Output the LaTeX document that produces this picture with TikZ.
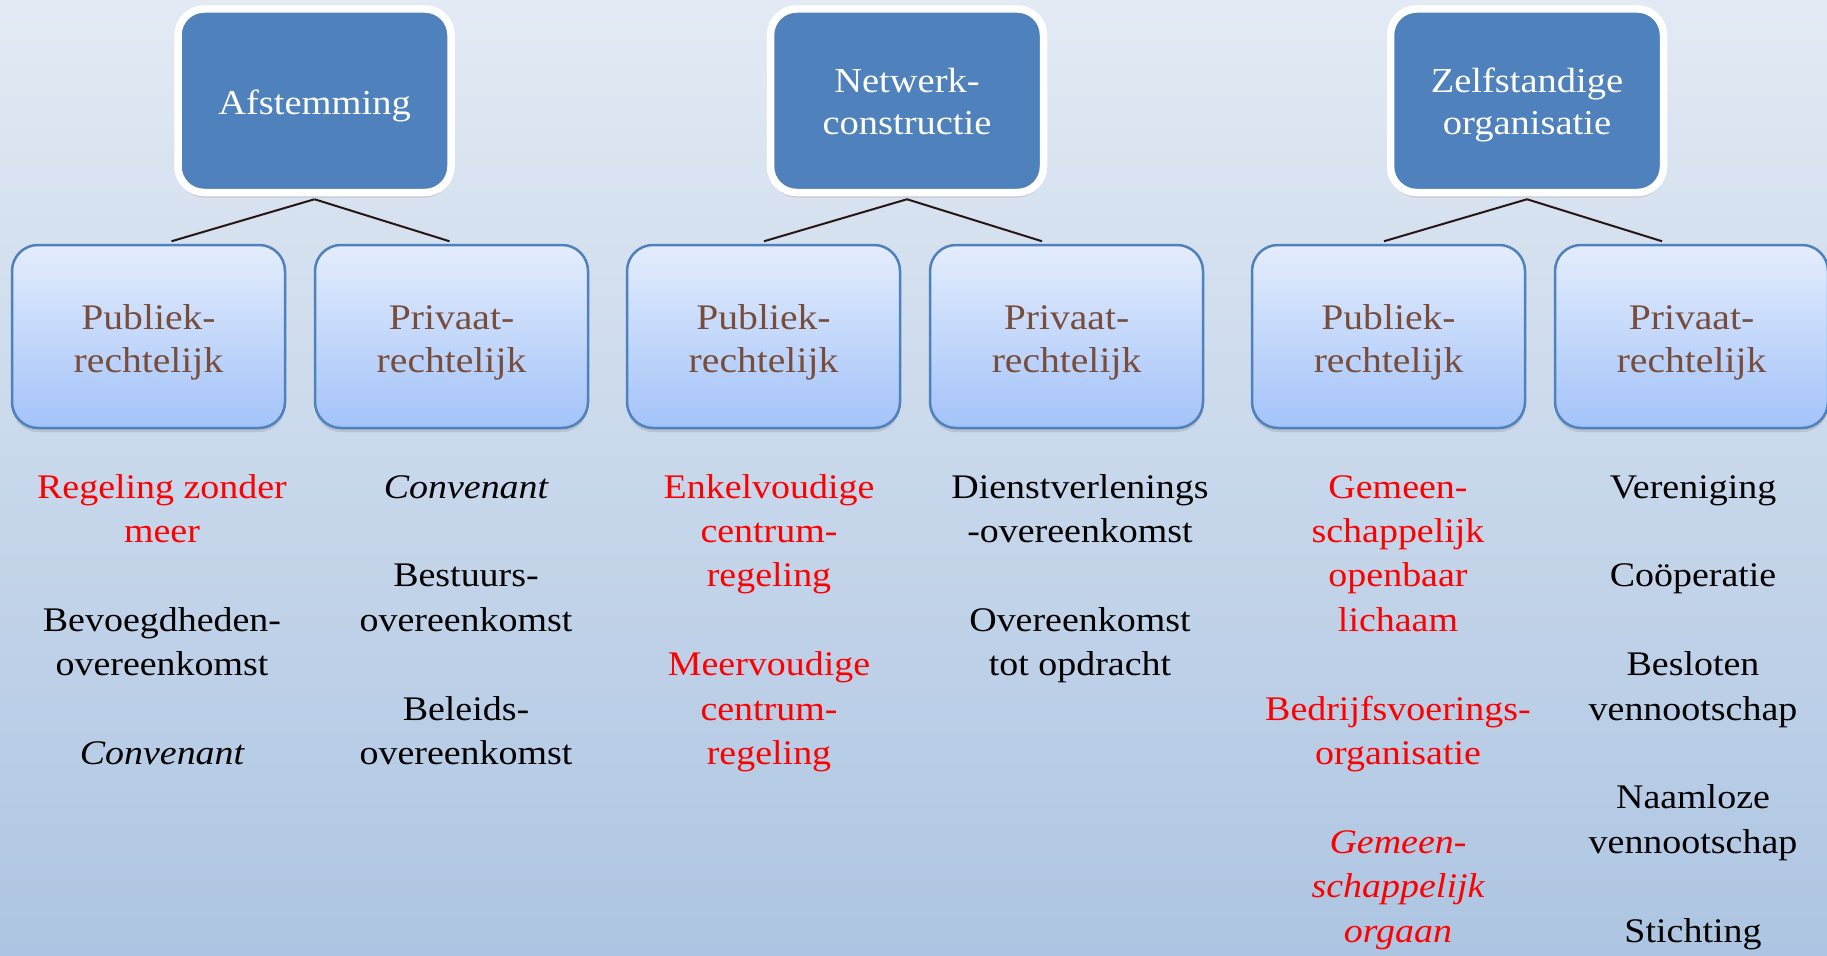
\documentclass[tikz,border=0pt]{standalone}
\usepackage{fontspec}
\setmainfont[FakeStretch=1.1]{Liberation Serif}
\usetikzlibrary{calc, shadows}

\definecolor{bgtop}{RGB}{227,234,244}
\definecolor{bgbottom}{RGB}{173,197,226}
\definecolor{headblue}{RGB}{79,129,189}
\definecolor{subtop}{RGB}{228,237,253}
\definecolor{subbottom}{RGB}{163,195,249}
\definecolor{subtext}{RGB}{121,77,60}
\definecolor{linkcol}{RGB}{40,22,22}

\tikzset{
  headbox/.style={rectangle, rounded corners=26pt, minimum width=273pt, minimum height=183.5pt,
    inner sep=0pt, fill=headblue, draw=white, line width=7.5pt, text=white, align=center,
    font=\fontsize{35}{42}\selectfont, text height=78pt, text depth=9.5pt,
    drop shadow={shadow xshift=0pt, shadow yshift=-5pt, opacity=0.25}},
  subbox/.style={rectangle, rounded corners=26pt, minimum width=273pt, minimum height=183pt,
    inner sep=0pt, top color=subtop, bottom color=subbottom, draw=headblue, line width=2.5pt,
    text=subtext, align=center, font=\fontsize{36}{43}\selectfont, text height=80pt, text depth=9pt,
    drop shadow={shadow xshift=0pt, shadow yshift=-4pt, opacity=0.25}},
  item/.style={anchor=base, align=center, font=\fontsize{34.5}{44.4}\selectfont},
  itemit/.style={item, font=\fontsize{34.5}{44.4}\selectfont\itshape},
  link/.style={draw=linkcol, line width=2pt}
}

\begin{document}
\begin{tikzpicture}[x=1pt, y=-1pt]
    \useasboundingbox (0,0) rectangle (1827,955);
    \shade[top color=bgtop, bottom color=bgbottom] (0,0) rectangle (1827,955);

    % Top level
    \node[headbox, text height=35pt, text depth=6.5pt] (afst) at (314.5,100.75) {Afstemming};
    \node[headbox] (netw) at (907,100.75) {Netwerk-\\constructie};
    \node[headbox] (zelf) at (1527,100.75) {Zelfstandige\\organisatie};

    % Second level
    \foreach \n/\x in {pub1/148.5, pub2/763.5, pub3/1388.5}
        \node[subbox] (\n) at (\x,336.5) {Publiek-\\rechtelijk};
    \foreach \n/\x in {priv1/451.5, priv2/1066.5, priv3/1691.5}
        \node[subbox] (\n) at (\x,336.5) {Privaat-\\rechtelijk};

    % Connectors
    \foreach \h in {afst, netw, zelf}{
        \coordinate (\h-l) at ($(\h.south)+(-143,45)$);
        \coordinate (\h-r) at ($(\h.south)+(135,45)$);
        \draw[link] ($(\h.south)+(0,3)$) -- (\h-l);
        \draw[link] ($(\h.south)+(0,3)$) -- (\h-r);
    }

    % Afstemming (base = last line)
    \node[item, text=red] (regeling) at (162,542.4) {Regeling zonder\\meer};
    \node[item] (bevoegd) at (162,675.6) {Bevoegdheden-\\overeenkomst};
    \node[itemit] (conv1) at (162,764.4) {Convenant};
    \node[itemit] (conv2) at (466,498) {Convenant};
    \node[item] (bestuur) at (466,631.2) {Bestuurs-\\overeenkomst};
    \node[item] (beleid) at (466,764.4) {Beleids-\\overeenkomst};

    % Netwerkconstructie
    \node[item, text=red] (enkel) at (769,586.8) {Enkelvoudige\\centrum-\\regeling};
    \node[item, text=red] (meer) at (769,764.4) {Meervoudige\\centrum-\\regeling};
    \node[item] (dienst) at (1080,542.4) {Dienstverlenings\\-overeenkomst};
    \node[item] (opdracht) at (1080,675.6) {Overeenkomst\\tot opdracht};

    % Zelfstandige organisatie
    \node[item, text=red] (gol) at (1398,631.2) {Gemeen-\\schappelijk\\openbaar\\lichaam};
    \node[item, text=red] (bvo) at (1398,764.4) {Bedrijfsvoerings-\\organisatie};
    \node[itemit, text=red] (go) at (1398,942) {Gemeen-\\schappelijk\\orgaan};
    \node[item] (ver) at (1693,498) {Vereniging};
    \node[item] (coop) at (1693,586.8) {Coöperatie};
    \node[item] (bv) at (1693,720) {Besloten\\vennootschap};
    \node[item] (nv) at (1693,853.2) {Naamloze\\vennootschap};
    \node[item] (sticht) at (1693,942) {Stichting};
\end{tikzpicture}
\end{document}
